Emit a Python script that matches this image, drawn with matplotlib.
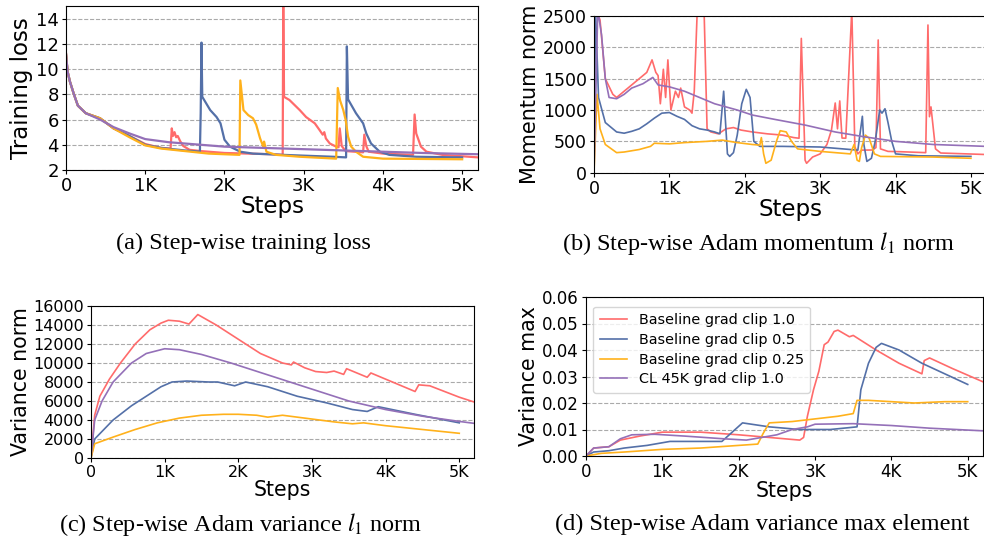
import matplotlib
matplotlib.use("Agg")
import matplotlib.pyplot as plt
from matplotlib.ticker import FuncFormatter, MultipleLocator

# ---------------- data ----------------
labels = ["Baseline grad clip 1.0", "Baseline grad clip 0.5",
          "Baseline grad clip 0.25", "CL 45K grad clip 1.0"]
colors = ["#ff6b6b", "#5470a8", "#ffb11b", "#9470b8"]

# (a) training loss
a_red_x = [0, 20, 50, 100, 150, 250, 430, 600, 800, 1000, 1200, 1320, 1335, 1350, 1370, 1390, 1410, 1440, 1480, 1560, 1700, 2000, 2300, 2600, 2735, 2742, 2752, 2820, 2950, 3030, 3140, 3200, 3240, 3260, 3280, 3330, 3410, 3440, 3455, 3480, 3530, 3750, 3765, 3790, 3820, 4000, 4380, 4400, 4420, 4480, 4550, 4750, 5200]
a_red_y = [11.2, 9.8, 9.0, 8.0, 7.1, 6.5, 6.1, 5.3, 4.7, 4.06, 3.75, 3.7, 5.3, 4.7, 5.0, 4.6, 4.7, 4.3, 3.9, 3.6, 3.5, 3.35, 3.3, 3.25, 3.2, 15.5, 7.8, 7.55, 6.75, 6.2, 5.7, 5.17, 4.8, 5.0, 4.5, 4.1, 3.85, 3.8, 5.3, 3.9, 3.5, 3.4, 4.8, 3.9, 3.45, 3.3, 3.2, 6.4, 4.9, 3.85, 3.45, 3.2, 3.0]
a_blue_x = [0, 20, 50, 100, 150, 250, 430, 600, 800, 1000, 1200, 1500, 1690, 1700, 1710, 1720, 1820, 1900, 1950, 2000, 2070, 2200, 2360, 2740, 3370, 3535, 3545, 3560, 3660, 3750, 3790, 3850, 3960, 4080, 4420, 5000]
a_blue_y = [11.2, 9.8, 9.0, 8.0, 7.1, 6.5, 6.1, 5.3, 4.7, 4.0, 3.75, 3.55, 3.45, 6.5, 12.1, 7.8, 6.75, 6.2, 5.7, 4.4, 3.85, 3.45, 3.3, 3.2, 3.05, 3.0, 11.8, 7.6, 6.5, 5.7, 4.9, 4.1, 3.45, 3.2, 3.05, 3.0]
a_yel_x = [0, 20, 50, 100, 150, 250, 430, 600, 800, 1000, 1200, 1500, 1800, 2190, 2200, 2240, 2300, 2360, 2400, 2450, 2490, 2500, 2530, 2650, 2950, 3410, 3430, 3460, 3500, 3530, 3560, 3600, 3660, 3750, 4000, 5000]
a_yel_y = [11.2, 9.8, 9.0, 8.0, 7.1, 6.5, 6.1, 5.3, 4.6, 3.95, 3.7, 3.5, 3.3, 3.2, 9.1, 6.75, 6.35, 6.1, 5.6, 4.5, 3.85, 4.25, 3.45, 3.2, 3.05, 2.9, 8.5, 7.5, 6.75, 5.95, 4.65, 3.85, 3.45, 3.05, 2.9, 2.85]
a_pur_x = [0, 20, 50, 100, 150, 250, 430, 600, 800, 1000, 1300, 1500, 2000, 2500, 3000, 3500, 4000, 4500, 5200]
a_pur_y = [11.2, 9.8, 9.0, 8.0, 7.1, 6.5, 6.0, 5.4, 4.9, 4.45, 4.2, 4.1, 3.85, 3.75, 3.65, 3.55, 3.45, 3.35, 3.25]

# (b) momentum norm
b_red_x = [0, 10, 30, 80, 150, 250, 300, 400, 550, 650, 700, 770, 820, 850, 880, 920, 950, 980, 1020, 1080, 1120, 1150, 1200, 1270, 1300, 1330, 1370, 1460, 1500, 1550, 1650, 1750, 1850, 1950, 2100, 2300, 2500, 2650, 2720, 2750, 2800, 2820, 2900, 3000, 3090, 3150, 3200, 3230, 3260, 3290, 3340, 3420, 3460, 3500, 3550, 3690, 3740, 3770, 3800, 3850, 3900, 4060, 4400, 4430, 4450, 4470, 4530, 4600, 5200]
b_red_y = [0, 2600, 2600, 2436, 1500, 1250, 1200, 1300, 1450, 1550, 1600, 1800, 1600, 1550, 1100, 1650, 1200, 1800, 1000, 1300, 1200, 1350, 1050, 1000, 950, 1300, 2600, 2600, 700, 650, 620, 700, 720, 680, 650, 620, 600, 560, 550, 2143, 200, 150, 250, 300, 450, 681, 1112, 700, 1145, 553, 550, 2600, 415, 300, 360, 362, 400, 2117, 380, 360, 340, 335, 320, 2356, 893, 1050, 380, 314, 290]
b_blue_x = [0, 20, 60, 150, 200, 300, 400, 500, 600, 700, 800, 900, 1000, 1100, 1200, 1300, 1400, 1500, 1600, 1670, 1720, 1770, 1800, 1850, 1900, 1960, 2020, 2070, 2120, 2200, 2500, 3000, 3300, 3500, 3560, 3580, 3620, 3680, 3730, 3790, 3820, 3860, 3900, 3950, 4000, 4300, 5000]
b_blue_y = [0, 2600, 1200, 800, 750, 650, 630, 660, 700, 780, 870, 950, 960, 900, 850, 750, 700, 680, 650, 620, 1300, 300, 260, 320, 600, 1100, 1330, 1200, 500, 420, 420, 410, 380, 360, 900, 450, 180, 230, 500, 1000, 950, 1020, 800, 500, 300, 270, 260]
b_yel_x = [0, 40, 80, 150, 300, 400, 600, 750, 800, 1000, 1200, 1500, 1700, 1900, 2100, 2200, 2220, 2250, 2280, 2350, 2420, 2470, 2550, 2620, 2700, 3000, 3200, 3400, 3450, 3490, 3520, 3550, 3600, 3650, 3720, 3800, 4500, 5000]
b_yel_y = [0, 1250, 700, 450, 320, 330, 370, 420, 470, 460, 480, 500, 520, 480, 450, 440, 560, 300, 150, 200, 500, 670, 650, 500, 380, 340, 320, 300, 450, 200, 180, 400, 600, 550, 300, 260, 250, 230]
b_pur_x = [0, 50, 100, 150, 200, 300, 400, 500, 650, 780, 850, 1000, 1200, 1400, 1600, 1900, 2100, 2400, 2800, 3200, 3600, 4000, 4500, 5200]
b_pur_y = [0, 2600, 2200, 1500, 1200, 1180, 1250, 1350, 1420, 1520, 1400, 1370, 1300, 1200, 1100, 1000, 920, 850, 760, 650, 570, 500, 450, 420]

# (c) variance norm
c_red_x = [0, 50, 120, 250, 400, 600, 800, 950, 1050, 1200, 1330, 1450, 1700, 2000, 2300, 2600, 2720, 2750, 2900, 3050, 3200, 3300, 3430, 3470, 3750, 3800, 4400, 4450, 4600, 5000, 5200]
c_red_y = [0, 4500, 6500, 8300, 10000, 12000, 13500, 14200, 14500, 14400, 14100, 15100, 14000, 12500, 11000, 10000, 9800, 10100, 9500, 9100, 9000, 9150, 8800, 9400, 8500, 8950, 7000, 7700, 7600, 6400, 5900]
c_pur_x = [0, 50, 150, 300, 550, 750, 1000, 1200, 1500, 1900, 2300, 2700, 3100, 3500, 4000, 4500, 5000, 5200]
c_pur_y = [0, 4000, 6000, 8000, 10000, 11000, 11500, 11400, 10900, 10000, 9000, 8000, 7000, 6000, 5100, 4400, 3850, 3650]
c_blue_x = [0, 50, 300, 550, 750, 950, 1100, 1300, 1600, 1720, 1950, 2100, 2400, 2800, 3200, 3550, 3750, 3900, 4400, 4800, 5000]
c_blue_y = [0, 2000, 4000, 5500, 6500, 7500, 8000, 8100, 8000, 8000, 7600, 8000, 7500, 6500, 5800, 5100, 4900, 5400, 4600, 4000, 3700]
c_yel_x = [0, 50, 300, 600, 900, 1200, 1500, 1800, 2000, 2250, 2400, 2600, 3000, 3300, 3550, 3700, 4000, 4500, 5000]
c_yel_y = [0, 1500, 2200, 3000, 3700, 4200, 4500, 4600, 4600, 4500, 4300, 4500, 4100, 3800, 3600, 3700, 3400, 3000, 2600]

# (d) variance max
d_red_x = [0, 100, 300, 450, 700, 1000, 1500, 2000, 2400, 2800, 2850, 2900, 2980, 3050, 3120, 3170, 3250, 3300, 3450, 3500, 3800, 4100, 4400, 4430, 4500, 4800, 5200]
d_red_y = [0, 0.003, 0.0035, 0.006, 0.0075, 0.009, 0.009, 0.008, 0.007, 0.006, 0.007, 0.015, 0.025, 0.032, 0.042, 0.043, 0.047, 0.0475, 0.045, 0.0455, 0.040, 0.035, 0.031, 0.036, 0.037, 0.033, 0.028]
d_blue_x = [0, 100, 300, 500, 800, 1100, 1700, 1780, 2050, 2400, 2800, 3200, 3550, 3600, 3700, 3800, 3870, 4100, 4400, 4700, 5000]
d_blue_y = [0, 0.0015, 0.002, 0.003, 0.004, 0.0055, 0.0055, 0.0055, 0.0125, 0.011, 0.010, 0.010, 0.011, 0.025, 0.035, 0.041, 0.0425, 0.040, 0.035, 0.031, 0.027]
d_yel_x = [0, 200, 500, 1000, 1500, 2000, 2250, 2320, 2400, 2700, 3000, 3300, 3500, 3550, 3700, 4000, 4300, 4700, 5000]
d_yel_y = [0, 0.001, 0.0015, 0.0025, 0.003, 0.004, 0.0045, 0.0085, 0.0125, 0.013, 0.014, 0.015, 0.016, 0.021, 0.021, 0.0205, 0.020, 0.0205, 0.0205]
d_pur_x = [0, 100, 300, 450, 600, 900, 1300, 1800, 2100, 2300, 2500, 2700, 2900, 3000, 3500, 4000, 4500, 5200]
d_pur_y = [0, 0.003, 0.0035, 0.0065, 0.008, 0.0082, 0.0075, 0.0065, 0.006, 0.007, 0.008, 0.010, 0.011, 0.012, 0.0122, 0.0115, 0.0105, 0.0095]

captions = ["(a) Step-wise training loss", r"(b) Step-wise Adam momentum $l_1$ norm",
            r"(c) Step-wise Adam variance $l_1$ norm", "(d) Step-wise Adam variance max element"]

# ---------------- figure ----------------
W, H = 984, 544
fig = plt.figure(figsize=(W / 100, H / 100), dpi=100)
plt.rcParams["mathtext.fontset"] = "stix"

def add_ax(l, t, r, b):
    return fig.add_axes([l / W, 1 - b / H, (r - l) / W, (b - t) / H])

kfmt = FuncFormatter(lambda v, p: "0" if v == 0 else f"{int(round(v / 1000))}K")

def style(ax, ylim, ystep, ylabel, tsize, lsize, ylsize=None, yfmt=None):
    ax.set_xlim(0, 5200)
    ax.set_ylim(*ylim)
    ax.xaxis.set_major_locator(MultipleLocator(1000))
    ax.xaxis.set_major_formatter(kfmt)
    ax.yaxis.set_major_locator(MultipleLocator(ystep))
    if yfmt:
        ax.yaxis.set_major_formatter(FuncFormatter(yfmt))
    ax.tick_params(labelsize=tsize, length=3, pad=2)
    ax.grid(axis="y", ls="--", color="#aaaaaa", lw=0.8)
    ax.set_axisbelow(True)
    ax.set_xlabel("Steps", fontsize=lsize, labelpad=0)
    ax.set_ylabel(ylabel, fontsize=ylsize or lsize, labelpad=2)

axa = add_ax(66, 6, 478, 170)
for x, y, c in zip([a_red_x, a_blue_x, a_yel_x, a_pur_x], [a_red_y, a_blue_y, a_yel_y, a_pur_y], colors):
    axa.plot(x, y, color=c, lw=1.6)
style(axa, (2, 15), 2, "Training loss", 13, 16.5)

axb = add_ax(594, 16, 986, 172.7)
for x, y, c in zip([b_red_x, b_blue_x, b_yel_x, b_pur_x], [b_red_y, b_blue_y, b_yel_y, b_pur_y], colors):
    axb.plot(x, y, color=c, lw=1.2)
style(axb, (0, 2500), 500, "Momentum norm", 12.5, 16.5, ylsize=15)

axc = add_ax(91, 306, 474, 458)
for x, y, c in zip([c_red_x, c_blue_x, c_yel_x, c_pur_x], [c_red_y, c_blue_y, c_yel_y, c_pur_y], colors):
    axc.plot(x, y, color=c, lw=1.2)
style(axc, (0, 16000), 2000, "Variance norm", 11.5, 14.8)

axd = add_ax(586, 297, 983, 456)
for x, y, c, lab in zip([d_red_x, d_blue_x, d_yel_x, d_pur_x], [d_red_y, d_blue_y, d_yel_y, d_pur_y], colors, labels):
    axd.plot(x, y, color=c, lw=1.2, label=lab)
style(axd, (0, 0.06), 0.01, "Variance max", 12, 14.8, yfmt=lambda v, p: f"{v:.2f}")
axd.legend(loc="upper left", fontsize=10.4, frameon=True, handlelength=1.9,
           borderpad=0.45, labelspacing=0.4, bbox_to_anchor=(0.0, 0.985))

capx = [243, 759, 241, 762]
capy = [243, 243, 524, 524]
for t, x, y in zip(captions, capx, capy):
    fig.text(x / W, 1 - y / H, t, ha="center", va="center", fontsize=17.5,
             family="Liberation Serif")

fig.savefig("out.png", dpi=100)
